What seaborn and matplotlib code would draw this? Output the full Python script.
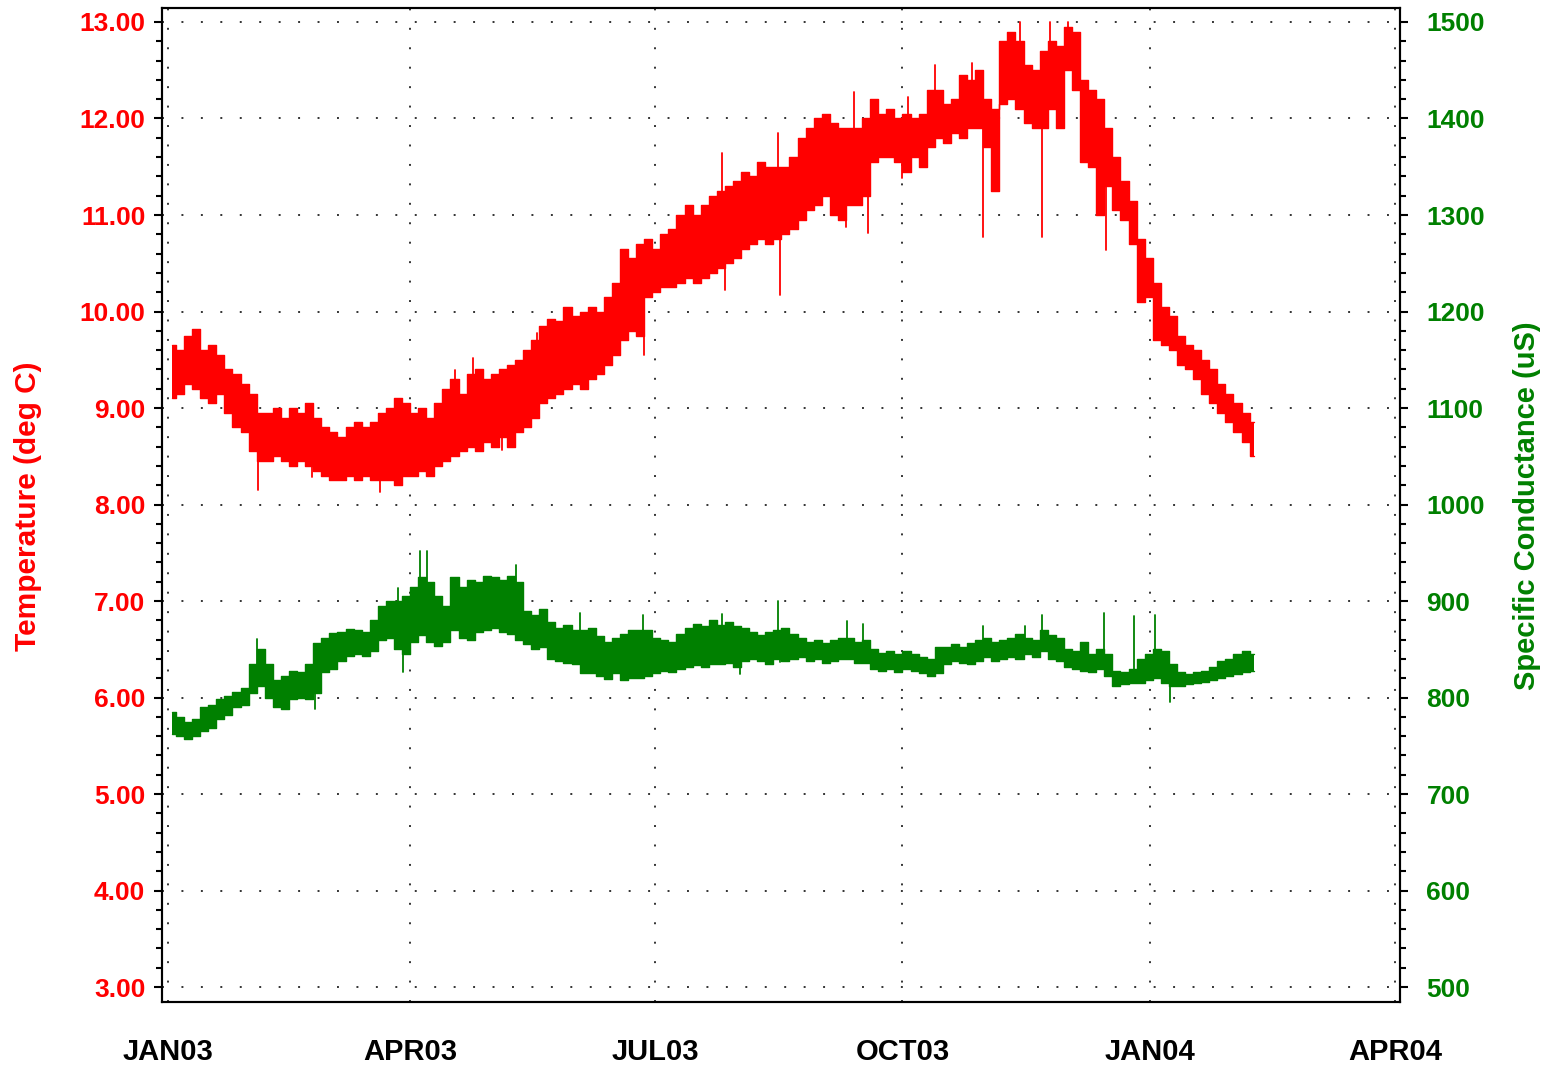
import numpy as np
import pandas as pd
import matplotlib
matplotlib.use("Agg")
import matplotlib.pyplot as plt
import matplotlib.dates as mdates
import matplotlib.ticker as mticker
import seaborn as sns

# ---------------- data ----------------
start_date = "2003-01-01"
window_days = 3  # each window: lower and upper edge of the dense noisy band

temp_lo = [9.10, 9.15, 9.25, 9.20, 9.10, 9.05, 9.15, 8.95, 8.80, 8.75,
           8.55, 8.45, 8.45, 8.50, 8.45, 8.40, 8.45, 8.40, 8.35, 8.30,
           8.25, 8.25, 8.30, 8.25, 8.30, 8.25, 8.25, 8.25, 8.20, 8.30,
           8.30, 8.35, 8.30, 8.40, 8.45, 8.50, 8.55, 8.60, 8.55, 8.65,
           8.60, 8.70, 8.60, 8.75, 8.80, 8.90, 9.05, 9.10, 9.15, 9.20,
           9.25, 9.20, 9.30, 9.35, 9.45, 9.55, 9.70, 9.80, 9.75, 10.15,
           10.20, 10.25, 10.25, 10.30, 10.35, 10.30, 10.35, 10.40, 10.45, 10.50,
           10.55, 10.65, 10.70, 10.75, 10.70, 10.75, 10.80, 10.85, 10.95, 11.05,
           11.10, 11.20, 11.00, 10.95, 11.10, 11.10, 11.20, 11.55, 11.60, 11.60,
           11.55, 11.45, 11.60, 11.50, 11.70, 11.80, 11.75, 11.85, 11.80, 11.90,
           11.90, 11.70, 11.25, 12.15, 12.20, 12.10, 11.95, 11.90, 11.90, 12.10,
           11.90, 12.50, 12.30, 11.55, 11.50, 11.00, 11.30, 11.05, 10.95, 10.70,
           10.10, 10.15, 9.70, 9.65, 9.60, 9.45, 9.40, 9.30, 9.15, 9.05,
           8.95, 8.85, 8.75, 8.65, 8.50]
temp_hi = [9.65, 9.60, 9.75, 9.82, 9.60, 9.65, 9.55, 9.40, 9.35, 9.25,
           9.15, 8.95, 8.95, 9.00, 8.90, 9.00, 8.95, 9.05, 8.90, 8.80,
           8.75, 8.70, 8.80, 8.85, 8.80, 8.85, 8.95, 9.00, 9.10, 9.05,
           8.95, 9.00, 8.90, 9.05, 9.20, 9.30, 9.15, 9.35, 9.40, 9.30,
           9.35, 9.40, 9.45, 9.50, 9.60, 9.70, 9.85, 9.92, 9.90, 10.05,
           9.95, 10.00, 10.05, 10.00, 10.15, 10.30, 10.65, 10.55, 10.70, 10.75,
           10.65, 10.80, 10.85, 11.00, 11.10, 11.00, 11.10, 11.20, 11.25, 11.30,
           11.35, 11.45, 11.40, 11.55, 11.50, 11.50, 11.50, 11.60, 11.80, 11.90,
           12.00, 12.05, 11.95, 11.90, 11.90, 11.90, 12.00, 12.20, 12.05, 12.10,
           12.00, 12.05, 12.00, 12.05, 12.30, 12.30, 12.15, 12.20, 12.45, 12.40,
           12.50, 12.20, 12.10, 12.80, 12.90, 12.80, 12.55, 12.50, 12.70, 12.80,
           12.75, 12.95, 12.90, 12.40, 12.30, 12.20, 11.90, 11.60, 11.35, 11.15,
           10.75, 10.55, 10.30, 10.05, 9.95, 9.75, 9.65, 9.60, 9.50, 9.40,
           9.25, 9.15, 9.05, 8.95, 8.85]
# isolated spikes: (day after start, value)
temp_spike_days = [33.4, 53.5, 79.0, 106.6, 113.3, 124.0, 137.0, 142.0, 177.0, 206.0,
                   207.0, 226.7, 227.4, 252.0, 255.0, 260.0, 273.0, 275.0, 285.0, 299.0,
                   303.0, 316.6, 325.0, 327.8, 334.4, 348.6]
temp_spike_vals = [8.15, 8.28, 8.13, 9.39, 9.52, 8.56, 9.78, 9.91, 9.55, 11.64,
                   10.22, 11.85, 10.17, 10.88, 12.27, 10.81, 11.38, 12.22, 12.55, 12.58,
                   10.77, 13.00, 10.77, 13.00, 13.00, 10.64]

cond_lo = [762, 760, 757, 760, 765, 768, 778, 782, 790, 792,
           805, 812, 800, 790, 788, 798, 800, 798, 805, 826,
           830, 838, 843, 845, 843, 848, 860, 862, 850, 845,
           858, 865, 858, 853, 858, 870, 862, 860, 868, 870,
           872, 868, 866, 860, 855, 850, 852, 840, 838, 836,
           835, 825, 825, 822, 819, 825, 818, 820, 820, 822,
           825, 828, 826, 830, 832, 834, 832, 835, 835, 836,
           832, 838, 840, 838, 835, 840, 838, 840, 842, 838,
           840, 836, 838, 840, 840, 836, 836, 830, 828, 830,
           826, 830, 828, 825, 822, 825, 835, 838, 836, 835,
           838, 842, 838, 840, 842, 840, 845, 842, 848, 840,
           838, 832, 830, 828, 826, 830, 822, 812, 814, 815,
           815, 818, 820, 815, 812, 812, 814, 815, 816, 818,
           820, 822, 824, 826, 828]
cond_hi = [785, 780, 775, 778, 790, 792, 798, 802, 806, 810,
           835, 850, 835, 818, 822, 828, 826, 835, 857, 862,
           867, 868, 871, 870, 868, 880, 895, 900, 900, 905,
           915, 925, 920, 905, 895, 925, 915, 922, 920, 926,
           925, 922, 926, 920, 890, 885, 892, 878, 872, 875,
           870, 870, 872, 864, 858, 862, 866, 870, 870, 870,
           862, 860, 858, 866, 872, 876, 874, 880, 875, 878,
           874, 872, 868, 865, 868, 870, 872, 866, 862, 858,
           860, 856, 860, 862, 862, 858, 860, 850, 846, 848,
           845, 848, 845, 842, 840, 852, 852, 855, 852, 856,
           860, 862, 858, 860, 862, 866, 862, 860, 870, 865,
           862, 850, 848, 858, 845, 850, 845, 828, 826, 830,
           840, 845, 850, 848, 835, 826, 824, 826, 828, 832,
           838, 840, 845, 848, 845]
cond_spike_days = [33.0, 54.6, 85.5, 87.3, 93.6, 96.2, 129.3, 153.0, 176.5, 206.0,
                   212.5, 226.7, 227.4, 252.5, 258.5, 303.0, 318.5, 325.0, 348.0, 359.0,
                   367.0, 372.5]
cond_spike_vals = [861, 788, 914, 826, 952, 952, 937, 888, 885, 887,
                   824, 900, 837, 879, 876, 874, 874, 885, 888, 884,
                   885, 795]

x_tick_dates = ["2003-01-01", "2003-04-01", "2003-07-01", "2003-10-01", "2004-01-01", "2004-04-01"]
x_tick_labels = ["JAN03", "APR03", "JUL03", "OCT03", "JAN04", "APR04"]
temp_ticks = [3, 4, 5, 6, 7, 8, 9, 10, 11, 12, 13]
cond_ticks = [500, 600, 700, 800, 900, 1000, 1100, 1200, 1300, 1400, 1500]
temp_label = "Temperature (deg C)"
cond_label = "Specific Conductance (uS)"

t_start = pd.Timestamp(start_date)


def band_frame(lo, hi):
    dates = [t_start + pd.Timedelta(days=i * window_days + window_days / 2) for i in range(len(lo))]
    return pd.DataFrame({"date": dates, "lo": lo, "hi": hi})


def spike_frame(days, vals, lo, hi):
    rows = []
    for i, (d, v) in enumerate(zip(days, vals)):
        k = min(int(d // window_days), len(lo) - 1)
        base = (lo[k] + hi[k]) / 2
        t = t_start + pd.Timedelta(days=d)
        rows.append((i, t, base))
        rows.append((i, t, v))
    return pd.DataFrame(rows, columns=["sid", "date", "value"])


bt = band_frame(temp_lo, temp_hi)
bc = band_frame(cond_lo, cond_hi)
st = spike_frame(temp_spike_days, temp_spike_vals, temp_lo, temp_hi)
sc = spike_frame(cond_spike_days, cond_spike_vals, cond_lo, cond_hi)

# ---------------- style ----------------
sns.set_style("white")
plt.rcParams["font.family"] = ["Liberation Sans", "DejaVu Sans"]

RED = "#ff0000"
GREEN = "#008000"

W, H = 1549, 1068
fig = plt.figure(figsize=(W / 100, H / 100), dpi=100)
left, right, top, bottom = 162, 1400, 8, 1002
ax = fig.add_axes([left / W, 1 - bottom / H, (right - left) / W, (bottom - top) / H])
ax2 = ax.twinx()


def draw(a, band, spikes, color):
    a.fill_between(band["date"], band["lo"], band["hi"], step="mid", color=color, lw=0, zorder=3)
    sns.lineplot(data=band, x="date", y="lo", ax=a, color=color, lw=1.0,
                 drawstyle="steps-mid", estimator=None, sort=False, zorder=3)
    sns.lineplot(data=band, x="date", y="hi", ax=a, color=color, lw=1.0,
                 drawstyle="steps-mid", estimator=None, sort=False, zorder=3)
    sns.lineplot(data=spikes, x="date", y="value", units="sid", ax=a, color=color,
                 lw=1.3, estimator=None, sort=False, zorder=3)


draw(ax, bt, st, RED)
draw(ax2, bc, sc, GREEN)

# limits
t0 = pd.Timestamp(x_tick_dates[0])
t1 = pd.Timestamp(x_tick_dates[-1])
ax.set_xlim(t0 - pd.Timedelta(days=2.2), t1 + pd.Timedelta(days=1.9))
ax.set_ylim(2.845, 13.145)
ax2.set_ylim(484.5, 1514.5)

# x ticks
ax.xaxis.set_major_locator(mticker.FixedLocator([mdates.date2num(pd.Timestamp(d)) for d in x_tick_dates]))
ax.xaxis.set_major_formatter(mticker.FixedFormatter(x_tick_labels))
ax.xaxis.set_minor_locator(mdates.MonthLocator())
ax.tick_params(axis="x", which="major", direction="out", length=11, width=1.5,
               color="black", labelsize=21, pad=15, labelcolor="black")
ax.tick_params(axis="x", which="minor", direction="out", length=6, width=1.5, color="black")

# y ticks (left)
ax.set_yticks(temp_ticks)
ax.yaxis.set_major_formatter(mticker.FormatStrFormatter("%.2f"))
ax.yaxis.set_minor_locator(mticker.AutoMinorLocator(5))
ax.tick_params(axis="y", which="major", direction="out", length=6, width=1.5,
               color="black", labelsize=19, labelcolor=RED, pad=6, left=True)
ax.tick_params(axis="y", which="minor", direction="out", length=4, width=1.5, color="black", left=True)

# y ticks (right)
ax2.set_yticks(cond_ticks)
ax2.yaxis.set_major_formatter(mticker.FormatStrFormatter("%d"))
ax2.yaxis.set_minor_locator(mticker.AutoMinorLocator(5))
ax2.tick_params(axis="y", which="major", direction="out", length=6, width=1.5,
                color="black", labelsize=19, labelcolor=GREEN, pad=13, right=True)
ax2.tick_params(axis="y", which="minor", direction="out", length=4, width=1.5, color="black", right=True)

for lbl in ax.get_xticklabels() + ax.get_yticklabels() + ax2.get_yticklabels():
    lbl.set_fontweight("bold")

# grid
ax.set_axisbelow(True)
ax.grid(True, which="major", axis="both", color="#333333", linestyle=(0, (1, 9)), lw=1.4)

for a in (ax, ax2):
    a.set_xlabel("")
    a.set_ylabel("")
    for s in a.spines.values():
        s.set_color("black")
        s.set_linewidth(1.5)

fig.text(28 / W, 1 - 506 / H, temp_label, rotation=90, ha="center", va="center",
         color=RED, fontsize=21.5, fontweight="bold")
fig.text(1527 / W, 1 - 506 / H, cond_label, rotation=90, ha="center", va="center",
         color=GREEN, fontsize=21, fontweight="bold")

fig.savefig("out.png", dpi=100)
